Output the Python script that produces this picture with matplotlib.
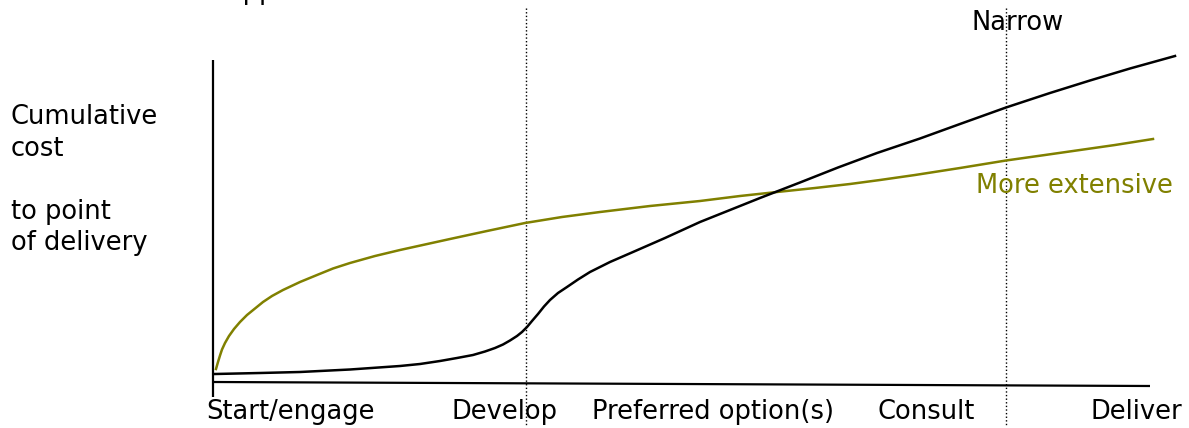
import numpy as np
import matplotlib
matplotlib.use('Agg')
import matplotlib.pyplot as plt

# Canvas units: x to the right, y downwards (same scale as the picture)
W, H = 1189, 428

# Stage labels along the bottom and their centres
stage_labels = ['Start/engage', 'Develop', 'Preferred option(s)', 'Consult', 'Deliver']
stage_x = [291, 505, 713, 926, 1136]

# Dotted phase boundaries
phase_x = [526, 1006]

# "Narrow" option (black) - cumulative cost curve
narrow_x = [215, 260, 300, 350, 400, 420, 440, 457, 473, 485, 495, 503, 510, 517,
            522, 527, 532, 538, 544, 550, 558, 567, 578, 590, 610, 633, 665, 700,
            730, 760, 800, 838, 877, 920, 960, 1006, 1050, 1090, 1130, 1175]
narrow_y = [374, 373, 372, 369.5, 366, 364, 361, 358, 355, 351.5, 348, 344.5, 340.5, 336,
            332, 327, 321, 314, 306.5, 300, 293, 287, 279.5, 272, 262, 252, 238, 222,
            210, 198, 182.5, 167.5, 153, 138.5, 124, 107.5, 93, 80.5, 68.5, 56]

# "More extensive" option (olive)
extensive_x = [216, 218, 220, 222, 225, 229, 234, 240, 247, 255, 263, 272, 283, 300,
               317, 333, 350, 375, 400, 425, 450, 487, 525, 562, 600, 650, 700, 740,
               777, 815, 850, 880, 915, 960, 1006, 1045, 1080, 1115, 1153]
extensive_y = [369, 362, 355.5, 349.5, 343, 336, 329, 322, 315, 308.5, 302, 296, 290, 282,
               275, 268.5, 263, 256, 250, 244.5, 239, 231, 223, 217, 212, 206, 201, 196,
               192, 188, 184, 180, 175, 168, 160.5, 155, 150, 145, 139]

# Axis lines
yaxis_x = [213, 213]
yaxis_y = [60, 397]
xaxis_x = [213, 1150]
xaxis_y = [382, 386]

olive = '#808000'
fs = 18.5

fig = plt.figure(figsize=(W / 100, H / 100), dpi=100)
ax = fig.add_axes([0, 0, 1, 1])
ax.set_xlim(0, W)
ax.set_ylim(H, 0)
ax.axis('off')

# Axes
ax.plot(yaxis_x, yaxis_y, color='black', lw=1.6, solid_capstyle='butt')
ax.plot(xaxis_x, xaxis_y, color='black', lw=1.6, solid_capstyle='butt')

# Phase boundaries
for px in phase_x:
    ax.plot([px, px], [8, 425], color='black', lw=1.0, linestyle=(0, (1, 1.6)))

# Curves
ax.plot(extensive_x, extensive_y, color=olive, lw=1.8, solid_joinstyle='round')
ax.plot(narrow_x, narrow_y, color='black', lw=1.8, solid_joinstyle='round')

# Stage labels
for lab, sx in zip(stage_labels, stage_x):
    ax.text(sx, 419, lab, ha='center', va='baseline', fontsize=fs, color='black')

# Y label
ax.text(11, 104, 'Cumulative\ncost\n\nto point\nof delivery', ha='left', va='top',
        fontsize=fs, color='black', linespacing=1.28)

# Curve labels
ax.text(1173, 193, 'More extensive', ha='right', va='baseline', fontsize=fs, color=olive)
ax.text(972, 30, 'Narrow', ha='left', va='baseline', fontsize=fs, color='black')

# Title cut off at the top of the slide
ax.text(226, -1, 'Approach', ha='left', va='baseline', fontsize=fs, color='black')

fig.savefig('out.png', dpi=100)
